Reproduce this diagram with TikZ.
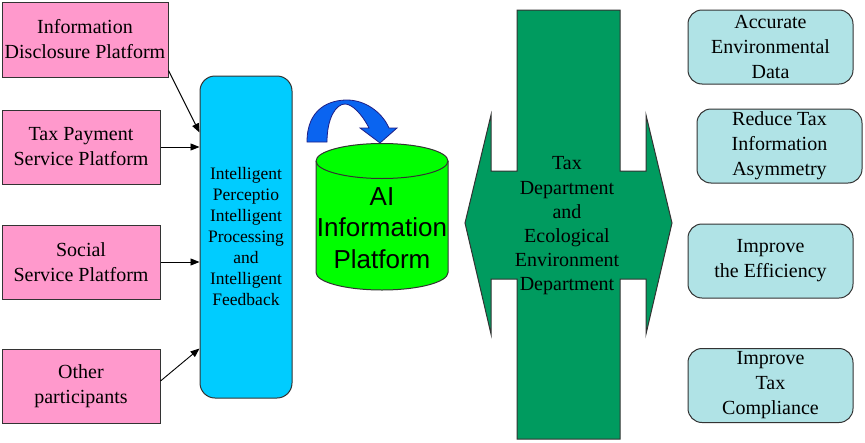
\documentclass[tikz,border=0pt]{standalone}
\usepackage{fontspec}
\setmainfont{Liberation Serif}
\newfontfamily\arialfont{Liberation Sans}
\usetikzlibrary{arrows.meta,calc}
\definecolor{pinkc}{HTML}{FF99CC}
\definecolor{cyanc}{HTML}{00CCFF}
\definecolor{limec}{HTML}{00FF00}
\definecolor{greenc}{HTML}{009B5F}
\definecolor{tealc}{HTML}{B0E3E6}
\definecolor{arcblue}{HTML}{0A64F0}
\definecolor{edgec}{HTML}{333333}
\tikzset{
  pinkbox/.style={draw=edgec, line width=1pt, fill=pinkc, minimum width=158pt, minimum height=74pt, align=center, inner sep=0pt, font=\fontsize{20}{25}\selectfont},
  tealbox/.style={draw=edgec, line width=1pt, fill=tealc, rounded corners=14pt, minimum width=165pt, minimum height=74pt, align=center, inner sep=0pt, font=\fontsize{20}{25}\selectfont},
  conn/.style={line width=0.9pt, -{Triangle[length=9pt,width=7pt]}},
}
\begin{document}
\begin{tikzpicture}[x=1pt,y=-1pt]
\useasboundingbox (0,0) rectangle (865,442);
% left boxes
\node[pinkbox, minimum width=166pt, minimum height=75pt] (p1) at (85,39.5) {Information\\Disclosure Platform};
\node[pinkbox] (p2) at (81,147) {Tax Payment\\Service Platform};
\node[pinkbox] (p3) at (81,262) {Social\\Service Platform};
\node[pinkbox] (p4) at (81,386) {Other\\participants};
% central blue box
\node[draw=edgec, line width=1pt, fill=cyanc, rounded corners=15pt, minimum width=92pt, minimum height=322pt, align=center, inner sep=0pt, font=\fontsize{17.5}{21}\selectfont] (ip) at (246,237) {Intelligent\\Perceptio\\Intelligent\\Processing\\and\\Intelligent\\Feedback};
% connectors
\draw[conn] ($(p1.south east)+(0,-7)$) -- ($(ip.north west)+(0,57)$);
\draw[conn] (p2.east) -- (p2.east -| ip.west);
\draw[conn] (p3.east) -- (p3.east -| ip.west);
\draw[conn] ($(p4.east)+(0,-5)$) -- ($(ip.north west)+(0,273)$);
% cylinder
\draw[edgec, line width=1pt, fill=limec] (316,161) -- (316,272.5) arc[start angle=180, end angle=360, x radius=66, y radius=-17.5] -- (448,161) arc[start angle=0, end angle=180, x radius=66, y radius=-17.5] -- cycle;
\draw[edgec, line width=1pt] (316,161) arc[start angle=180, end angle=360, x radius=66, y radius=-17.5];
\node[align=center, inner sep=0pt, font=\arialfont\fontsize{26}{31.5}\selectfont] (ai) at (382,228) {AI\\Information\\Platform};
% blue curved arrow
\draw[edgec!60!blue, line width=0.8pt, fill=arcblue]
  (307,142) .. controls (307,108) and (330,100) .. (347,100)
  .. controls (365,100) and (382,112) .. (389,128)
  -- (397,128) -- (380,143) -- (360,128) -- (369,128)
  .. controls (362,114) and (352,104) .. (345,104)
  .. controls (336,104) and (327,118) .. (327,142) -- cycle;
% green double arrow with bar
\draw[edgec, line width=1pt, fill=greenc]
  (517,10) -- (620,10) -- (620,171) -- (646,171) -- (646,115) -- (672,223) -- (646,334) -- (646,279) -- (620,279) -- (620,439) -- (517,439) -- (517,279) -- (491,279) -- (491,334) -- (465,223) -- (491,115) -- (491,171) -- (517,171) -- cycle;
\node[align=center, inner sep=0pt, font=\fontsize{20}{24.2}\selectfont] (td) at (567,226) {Tax\\Department\\and\\Ecological\\Environment\\Department};
% right boxes
\node[tealbox] (r1) at (770.5,47) {Accurate\\Environmental\\Data};
\node[tealbox] (r2) at (779.5,146) {Reduce Tax\\Information\\Asymmetry};
\node[tealbox] (r3) at (770.5,261) {Improve\\the Efficiency};
\node[tealbox] (r4) at (770.5,385.5) {Improve\\Tax\\Compliance};
\end{tikzpicture}
\end{document}
